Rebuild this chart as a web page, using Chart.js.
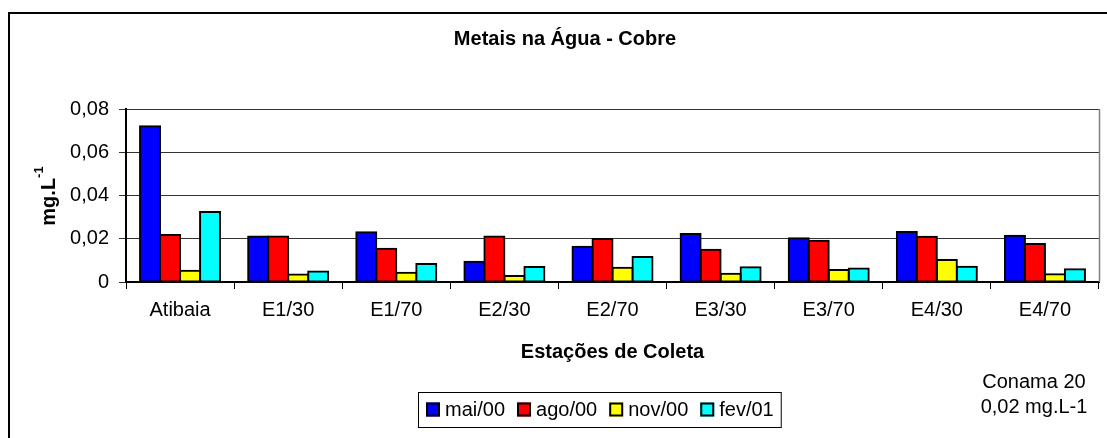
<!DOCTYPE html>
<html>
<head>
<meta charset="utf-8">
<script src="https://cdn.jsdelivr.net/npm/chart.js@4.4.1/dist/chart.umd.min.js"></script>
<style>
  html, body { margin: 0; padding: 0; background: #fff; }
  canvas { display: block; }
</style>
</head>
<body>
<canvas id="c" width="1107" height="438"></canvas>
<script>
// Copper concentration (mg/L) per sampling station and campaign
const stations = ['Atibaia', 'E1/30', 'E1/70', 'E2/30', 'E2/70', 'E3/30', 'E3/70', 'E4/30', 'E4/70'];
const mai00 = [0.072, 0.021, 0.023, 0.0094, 0.0163, 0.0222, 0.0202, 0.0231, 0.0214];
const ago00 = [0.0217, 0.021, 0.0154, 0.021, 0.0199, 0.0149, 0.0191, 0.0209, 0.0176];
const nov00 = [0.0052, 0.0035, 0.0043, 0.0028, 0.0066, 0.0038, 0.0055, 0.0102, 0.0036];
const fev01 = [0.0324, 0.0048, 0.0083, 0.0069, 0.0116, 0.0068, 0.0063, 0.0071, 0.0059];
const seriesNames = ['mai/00', 'ago/00', 'nov/00', 'fev/01'];
const yTickLabels = ['0', '0,02', '0,04', '0,06', '0,08'];
const chartTitle = 'Metais na Água - Cobre';
const xAxisTitle = 'Estações de Coleta';
const yAxisTitle = 'mg.L';
const yAxisTitleSup = '-1';
const noteLines = ['Conama 20', '0,02 mg.L-1'];

const FONT = '"Liberation Sans", Arial, Helvetica, sans-serif';
const colors = ['#0000FF', '#FF0000', '#FFFF00', '#00FFFF'];
const seriesValues = [mai00, ago00, nov00, fev01];

const datasets = seriesNames.map((name, i) => ({
  label: name,
  data: seriesValues[i],
  backgroundColor: colors[i],
  borderColor: '#000',
  borderWidth: 2,
  borderSkipped: false,
  inflateAmount: 1,
  categoryPercentage: 0.74,
  barPercentage: 1.0
}));

// Frame, titles, legend box and side note
const decorations = {
  id: 'decorations',
  afterDraw(chart) {
    const ctx = chart.ctx;
    const area = chart.chartArea;
    ctx.save();

    // outer chart frame (left and top edges)
    ctx.strokeStyle = '#000';
    ctx.lineWidth = 2;
    ctx.beginPath();
    ctx.moveTo(9, 438);
    ctx.lineTo(9, 13);
    ctx.lineTo(1107, 13);
    ctx.stroke();

    // plot area right edge
    ctx.strokeStyle = '#808080';
    ctx.lineWidth = 1.5;
    ctx.beginPath();
    ctx.moveTo(area.right + 0.5, area.top);
    ctx.lineTo(area.right + 0.5, area.bottom);
    ctx.stroke();

    ctx.fillStyle = '#000';
    ctx.textBaseline = 'middle';

    // chart title
    ctx.font = 'bold 20px ' + FONT;
    ctx.textAlign = 'center';
    ctx.fillText(chartTitle, 565, 39);

    // x axis title
    ctx.fillText(xAxisTitle, (area.left + area.right) / 2, 352);

    // y axis title with superscript
    ctx.save();
    ctx.translate(47, 196);
    ctx.rotate(-Math.PI / 2);
    ctx.textAlign = 'left';
    ctx.textBaseline = 'alphabetic';
    ctx.font = 'bold 20px ' + FONT;
    const w1 = ctx.measureText(yAxisTitle).width;
    ctx.font = 'bold 13px ' + FONT;
    const w2 = ctx.measureText(yAxisTitleSup).width;
    const start = -(w1 + w2) / 2;
    ctx.font = 'bold 20px ' + FONT;
    ctx.fillText(yAxisTitle, start, 8);
    ctx.font = 'bold 13px ' + FONT;
    ctx.fillText(yAxisTitleSup, start + w1, -4);
    ctx.restore();

    // side note
    ctx.font = '20px ' + FONT;
    ctx.textAlign = 'center';
    ctx.fillText(noteLines[0], 1034, 382);
    ctx.fillText(noteLines[1], 1034, 407);

    // legend
    const items = chart.data.datasets;
    ctx.font = '20px ' + FONT;
    ctx.textAlign = 'left';
    const boxLeft = 418, boxTop = 392, boxBottom = 427;
    const midY = (boxTop + boxBottom) / 2;
    let x = boxLeft + 8;
    let lastEnd = x;
    items.forEach((ds) => {
      ctx.fillStyle = ds.backgroundColor;
      ctx.fillRect(x, midY - 7, 14, 14);
      ctx.strokeStyle = '#000';
      ctx.lineWidth = 2;
      ctx.strokeRect(x + 1, midY - 6, 12, 12);
      ctx.fillStyle = '#000';
      const tw = ctx.measureText(ds.label).width;
      ctx.fillText(ds.label, x + 19, midY + 1);
      lastEnd = x + 19 + tw;
      x = lastEnd + 12;
    });
    ctx.strokeStyle = '#000';
    ctx.lineWidth = 1;
    ctx.strokeRect(boxLeft + 0.5, boxTop + 0.5, lastEnd + 7 - boxLeft, boxBottom - boxTop);

    ctx.restore();
  }
};

new Chart(document.getElementById('c'), {
  type: 'bar',
  data: { labels: stations, datasets },
  options: {
    responsive: false,
    animation: false,
    events: [],
    layout: { padding: { left: 0, top: 109, right: 8, bottom: 0 } },
    plugins: {
      legend: { display: false },
      title: { display: false },
      tooltip: { enabled: false }
    },
    scales: {
      x: {
        offset: true,
        grid: { display: true, drawOnChartArea: false, offset: true, tickLength: 7, color: '#000', lineWidth: 1 },
        border: { display: true, color: '#000', width: 2 },
        ticks: { font: { family: FONT, size: 20 }, color: '#000', padding: 9, maxRotation: 0, autoSkip: false },
        afterFit: (s) => { s.height = 156; }
      },
      y: {
        min: 0,
        max: 0.08,
        ticks: {
          stepSize: 0.02,
          callback: (v, i) => yTickLabels[i],
          font: { family: FONT, size: 20 },
          color: '#000',
          padding: 10
        },
        grid: { color: '#333', lineWidth: 1, tickLength: 7 },
        border: { color: '#000', width: 2 },
        afterFit: (s) => { s.width = 126; }
      }
    }
  },
  plugins: [decorations]
});
</script>
</body>
</html>
